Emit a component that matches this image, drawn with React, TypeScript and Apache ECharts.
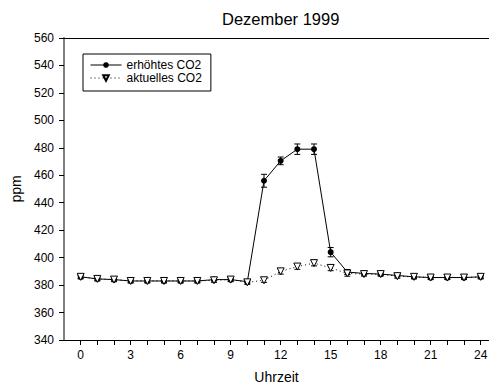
import React, { useEffect, useRef } from "react";
import * as echarts from "echarts";

const hours = [0, 1, 2, 3, 4, 5, 6, 7, 8, 9, 10, 11, 12, 13, 14, 15, 16, 17, 18, 19, 20, 21, 22, 23, 24];
const elevated = [386, 384.5, 384, 383, 383, 383, 383, 383, 384, 384, 382.5, 456, 470.5, 479, 479, 404, 389.5, 388.5, 388, 387, 386, 385.5, 385.5, 385.5, 386];
const elevatedErr = [1, 1, 1, 1, 1, 1, 1, 1, 1, 1, 1, 4.7, 2.8, 3.8, 3.8, 3.4, 1.8, 1.2, 1, 1, 1, 1, 1, 1, 1];
const current = [386, 384.5, 384, 383, 383, 383, 383, 383, 383.5, 384, 382, 383.5, 390, 393.5, 396, 392.5, 388.5, 388, 388, 386.5, 386, 385.5, 385.5, 385.5, 386];
const currentErr = [1.5, 1.5, 1.5, 1.5, 1.5, 1.5, 1.5, 1.5, 1.5, 1.5, 1.5, 1.5, 2, 2, 2, 2, 2, 1.5, 1.5, 1.5, 1.5, 1.5, 1.5, 1.5, 1.5];
const xTicks = hours;
const xLabels = [0, 3, 6, 9, 12, 15, 18, 21, 24];
const seriesNames = ["erhöhtes CO2", "aktuelles CO2"];

const FONT = "'Liberation Sans', Arial, sans-serif";

function errData(vals: number[], errs: number[]) {
  return hours.map((h, i) => [h, vals[i] - errs[i], vals[i] + errs[i]]);
}

function renderErr(params: any, api: any) {
  const x = api.value(0);
  const lo = api.coord([x, api.value(1)]);
  const hi = api.coord([x, api.value(2)]);
  const w = 3;
  const style = { stroke: "#000", lineWidth: 1 };
  return {
    type: "group",
    children: [
      { type: "line", shape: { x1: lo[0], y1: lo[1], x2: hi[0], y2: hi[1] }, style },
      { type: "line", shape: { x1: lo[0] - w, y1: lo[1], x2: lo[0] + w, y2: lo[1] }, style },
      { type: "line", shape: { x1: hi[0] - w, y1: hi[1], x2: hi[0] + w, y2: hi[1] }, style },
    ],
  };
}

export default function App() {
  const ref = useRef<HTMLDivElement>(null);
  useEffect(() => {
    if (!ref.current) return;
    const chart = echarts.init(ref.current, null, { renderer: "svg" });
    chart.setOption({
      animation: false,
      backgroundColor: "#fff",
      textStyle: { fontFamily: FONT, color: "#000" },
      title: {
        text: "Dezember 1999",
        left: 222,
        top: 10,
        padding: 0,
        textStyle: { fontFamily: FONT, fontSize: 16.5, fontWeight: "normal", color: "#000" },
      },
      legend: {
        orient: "vertical",
        left: 83,
        top: 54,
        padding: [5, 9, 7, 7],
        borderColor: "#000",
        borderWidth: 1,
        itemWidth: 31,
        itemHeight: 7,
        itemGap: 1,
        data: seriesNames,
        lineStyle: { width: 1 },
        textStyle: { fontFamily: FONT, fontSize: 12, color: "#000" },
      },
      grid: { left: 64, right: 0, top: 38, bottom: 45, containLabel: false, outerBoundsMode: "none" },
      xAxis: [
        {
          type: "value",
          min: -1,
          max: 24.5,
          name: "Uhrzeit",
          nameLocation: "middle",
          nameGap: 30,
          nameTextStyle: { fontFamily: FONT, fontSize: 14, color: "#000" },
          axisLine: { show: true, onZero: false, lineStyle: { color: "#000", width: 1 } },
          axisTick: { show: true, length: 5, customValues: xTicks, lineStyle: { color: "#000" } },
          axisLabel: { customValues: xLabels, margin: 9, fontFamily: FONT, fontSize: 12, color: "#000" },
          splitLine: { show: false },
        },
        {
          type: "value",
          min: -1,
          max: 24.5,
          position: "top",
          axisLine: { show: true, onZero: false, lineStyle: { color: "#000", width: 1 } },
          axisTick: { show: false },
          axisLabel: { show: false },
          splitLine: { show: false },
        },
      ],
      yAxis: {
        type: "value",
        min: 340,
        max: 560,
        interval: 20,
        name: "ppm",
        nameLocation: "middle",
        nameGap: 39,
        nameTextStyle: { fontFamily: FONT, fontSize: 14, color: "#000" },
        axisLine: { show: true, onZero: false, lineStyle: { color: "#808080", width: 2 } },
        axisTick: { show: true, length: 5, lineStyle: { color: "#000" } },
        axisLabel: { margin: 10, fontFamily: FONT, fontSize: 12, color: "#000" },
        splitLine: { show: false },
      },
      series: [
        {
          type: "custom",
          name: "errElevated",
          xAxisIndex: 0,
          renderItem: renderErr,
          data: errData(elevated, elevatedErr),
          encode: { x: 0, y: [1, 2] },
          z: 2,
        },
        {
          type: "line",
          name: seriesNames[0],
          xAxisIndex: 0,
          data: hours.map((h, i) => [h, elevated[i]]),
          symbol: "circle",
          symbolSize: 6,
          itemStyle: { color: "#000", borderColor: "#000", borderWidth: 0 },
          lineStyle: { color: "#000", width: 1, type: "solid" },
          z: 3,
        },
        {
          type: "custom",
          name: "errCurrent",
          xAxisIndex: 0,
          renderItem: renderErr,
          data: errData(current, currentErr),
          encode: { x: 0, y: [1, 2] },
          z: 4,
        },
        {
          type: "line",
          name: seriesNames[1],
          xAxisIndex: 0,
          data: hours.map((h, i) => [h, current[i]]),
          symbol: "triangle",
          symbolRotate: 180,
          symbolSize: 7,
          showAllSymbol: true,
          itemStyle: { color: "#fff", borderColor: "#000", borderWidth: 1 },
          lineStyle: { color: "#000", width: 1, type: [1, 3] },
          z: 5,
        },
      ],
    });
    return () => chart.dispose();
  }, []);
  return <div ref={ref} style={{ width: 489, height: 385, position: "absolute", left: 0, top: 0 }} />;
}
